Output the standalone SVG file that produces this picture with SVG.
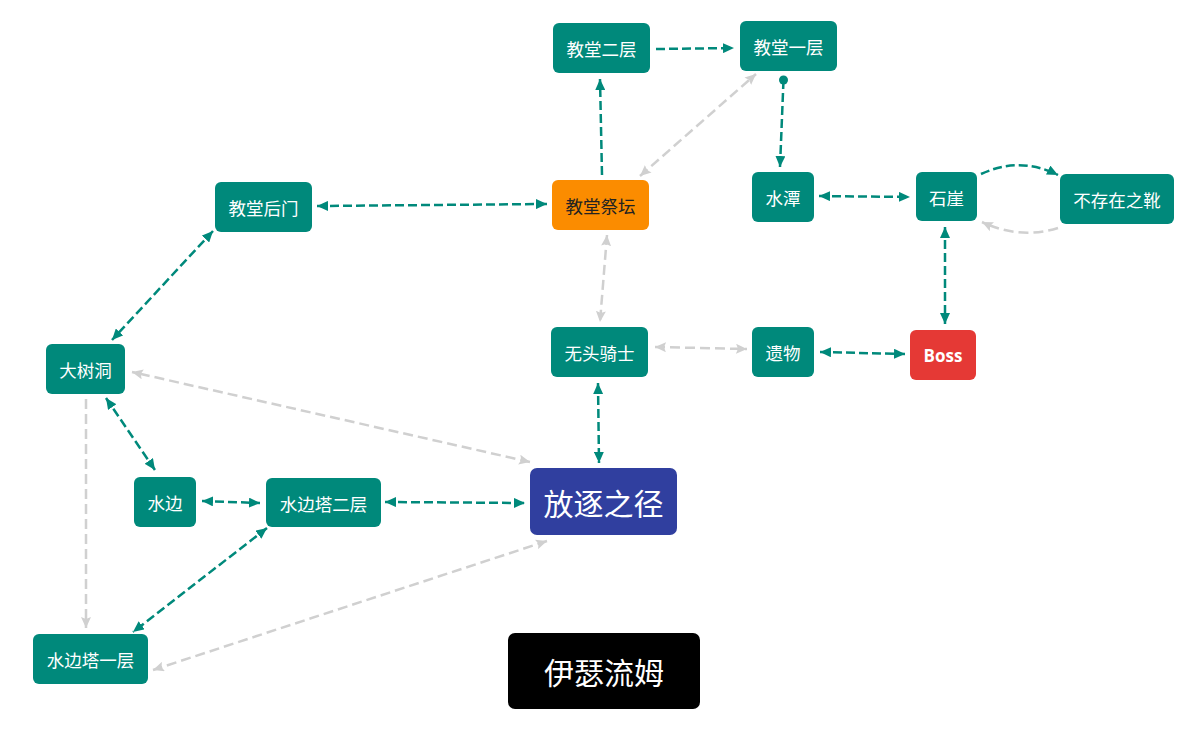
<svg xmlns="http://www.w3.org/2000/svg" width="1192" height="752" viewBox="0 0 1192 752">
<style>
.n{fill:#00897b}
.t{font-family:"Noto Sans CJK SC","Noto Sans",sans-serif;font-size:17.5px;fill:#fff;text-anchor:middle;dominant-baseline:central}
.e{fill:none;stroke:#00897b;stroke-width:2.5;stroke-dasharray:9,4}
.g{fill:none;stroke:#d0d0d0;stroke-width:2.5;stroke-dasharray:10,5}
</style>
<defs>
<marker id="at" markerUnits="userSpaceOnUse" markerWidth="12" markerHeight="10" refX="11" refY="5" orient="auto-start-reverse"><path d="M0,0L11,5L0,10z" fill="#00897b"/></marker>
<marker id="ag" markerUnits="userSpaceOnUse" markerWidth="12" markerHeight="10" refX="11" refY="5" orient="auto-start-reverse"><path d="M0,0L11,5L0,10L2,5z" fill="#d0d0d0"/></marker>
</defs>
<rect width="1192" height="752" fill="#fff"/>
<g id="connectors">
<path class="e" d="M656,49L734,48" marker-end="url(#at)"/>
<path class="e" d="M602,175L600,79" marker-end="url(#at)"/>
<path class="g" d="M640,176L756,74" marker-start="url(#ag)" marker-end="url(#ag)"/>
<circle cx="783.5" cy="80" r="4.5" fill="#00897b"/>
<path class="e" d="M783.5,80L780,167" marker-end="url(#at)"/>
<path class="e" d="M819,196L910,197" marker-start="url(#at)" marker-end="url(#at)"/>
<path class="e" d="M981,174Q1020,156 1058,175" marker-end="url(#at)"/>
<path class="g" d="M1058,228Q1020,240 982,222" marker-end="url(#ag)"/>
<path class="e" d="M945,227L945,324" marker-start="url(#at)" marker-end="url(#at)"/>
<path class="e" d="M820,352L905,354" marker-start="url(#at)" marker-end="url(#at)"/>
<path class="g" d="M655,347L747,349" marker-start="url(#ag)" marker-end="url(#ag)"/>
<path class="g" d="M607,235L600,322" marker-start="url(#ag)" marker-end="url(#ag)"/>
<path class="e" d="M598,383L599,463" marker-start="url(#at)" marker-end="url(#at)"/>
<path class="e" d="M317,206L547,204" marker-start="url(#at)" marker-end="url(#at)"/>
<path class="e" d="M213,231L112,340" marker-start="url(#at)" marker-end="url(#at)"/>
<path class="g" d="M530,462L132,372" marker-start="url(#ag)" marker-end="url(#ag)"/>
<path class="e" d="M106,398L155,470" marker-start="url(#at)" marker-end="url(#at)"/>
<path class="g" d="M86,399L86,628" marker-end="url(#ag)"/>
<path class="e" d="M202,501L260,503" marker-start="url(#at)" marker-end="url(#at)"/>
<path class="e" d="M385,502L525,503" marker-start="url(#at)" marker-end="url(#at)"/>
<path class="e" d="M267,528L133,632" marker-start="url(#at)" marker-end="url(#at)"/>
<path class="g" d="M547,541L153,670" marker-start="url(#ag)" marker-end="url(#ag)"/>
</g>
<g id="n-jt2"><rect class="n" x="553" y="23" width="97" height="50" rx="6"/><text class="t" x="601.5" y="48.5">教堂二层</text></g>
<g id="n-jt1"><rect class="n" x="740" y="21" width="97" height="50" rx="6"/><text class="t" x="788.5" y="46.5">教堂一层</text></g>
<g id="n-jtjt"><rect x="552" y="180" width="97" height="50" rx="6" fill="#fb8c00"/><text class="t" x="600.5" y="205.5" style="fill:#222">教堂祭坛</text></g>
<g id="n-st"><rect class="n" x="752" y="172" width="62" height="50" rx="6"/><text class="t" x="783" y="197.5">水潭</text></g>
<g id="n-sy"><rect class="n" x="916" y="172" width="61" height="49" rx="6"/><text class="t" x="946.5" y="197">石崖</text></g>
<g id="n-bcz"><rect class="n" x="1060" y="174" width="114" height="50" rx="6"/><text class="t" x="1117" y="199.5">不存在之靴</text></g>
<g id="n-yw"><rect class="n" x="752" y="327" width="62" height="50" rx="6"/><text class="t" x="783" y="352.5">遗物</text></g>
<g id="n-boss"><rect x="910" y="330" width="66" height="50" rx="6" fill="#e53935"/><text class="t" x="943" y="355" style="font-family:'Open Sans','Noto Sans',sans-serif;font-weight:bold;font-size:17px">Boss</text></g>
<g id="n-jthm"><rect class="n" x="215" y="182" width="97" height="50" rx="6"/><text class="t" x="263.5" y="207.5">教堂后门</text></g>
<g id="n-dsd"><rect class="n" x="46" y="344" width="79" height="50" rx="6"/><text class="t" x="85.5" y="369.5">大树洞</text></g>
<g id="n-wtqs"><rect class="n" x="551" y="327" width="97" height="50" rx="6"/><text class="t" x="599.5" y="352.5">无头骑士</text></g>
<g id="n-fzzj"><rect x="530" y="468" width="147" height="67" rx="7" fill="#303f9f"/><text class="t" x="603.5" y="501.5" style="font-size:30px">放逐之径</text></g>
<g id="n-sb"><rect class="n" x="134" y="477" width="62" height="50" rx="6"/><text class="t" x="165" y="502.5">水边</text></g>
<g id="n-sbt2"><rect class="n" x="266" y="478" width="115" height="49" rx="6"/><text class="t" x="323.5" y="503">水边塔二层</text></g>
<g id="n-sbt1"><rect class="n" x="33" y="634" width="115" height="50" rx="6"/><text class="t" x="90.5" y="659.5">水边塔一层</text></g>
<g id="n-ysrm"><rect x="508" y="633" width="192" height="76" rx="7" fill="#000"/><text class="t" x="604" y="671" style="font-size:30px">伊瑟流姆</text></g>
</svg>
